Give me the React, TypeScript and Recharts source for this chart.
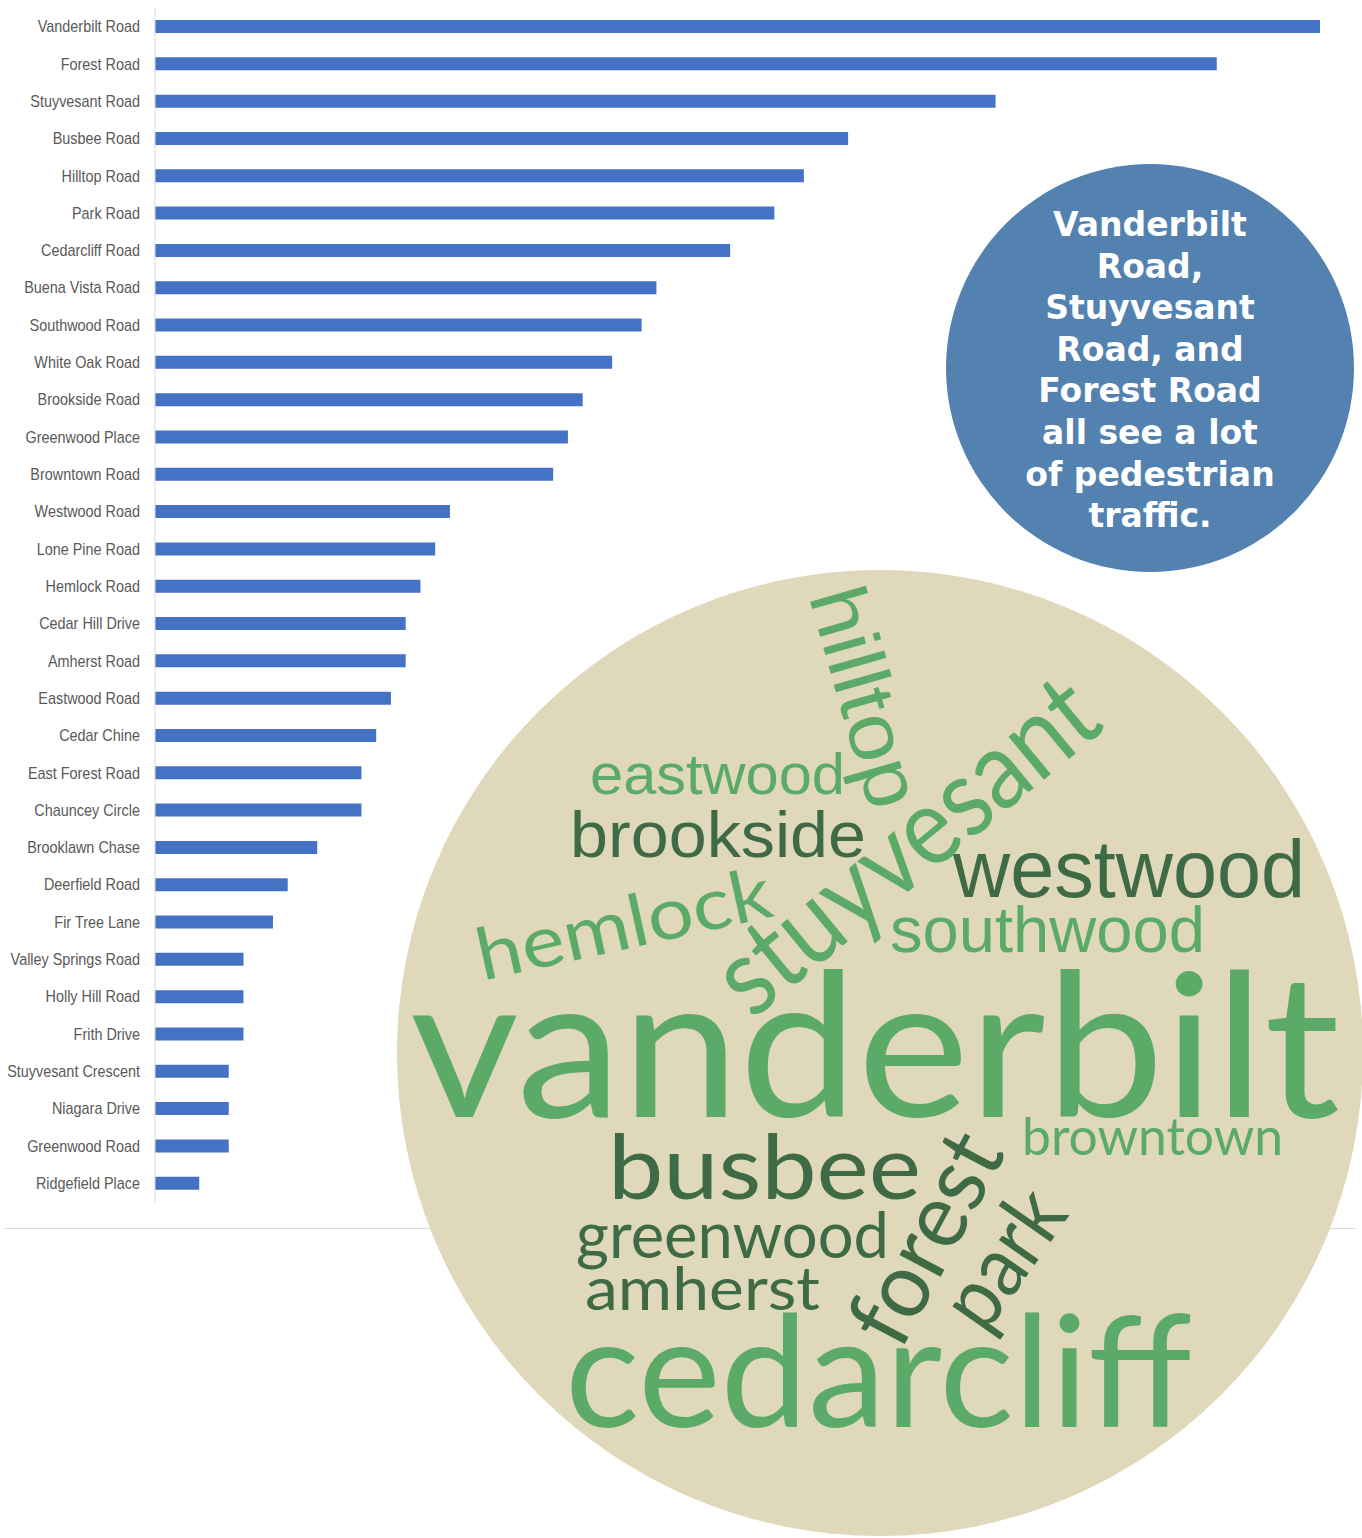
import React from 'react';
import { BarChart, Bar, XAxis, YAxis } from 'recharts';

const ROADS = [
  'Vanderbilt Road', 'Forest Road', 'Stuyvesant Road', 'Busbee Road', 'Hilltop Road',
  'Park Road', 'Cedarcliff Road', 'Buena Vista Road', 'Southwood Road', 'White Oak Road',
  'Brookside Road', 'Greenwood Place', 'Browntown Road', 'Westwood Road', 'Lone Pine Road',
  'Hemlock Road', 'Cedar Hill Drive', 'Amherst Road', 'Eastwood Road', 'Cedar Chine',
  'East Forest Road', 'Chauncey Circle', 'Brooklawn Chase', 'Deerfield Road', 'Fir Tree Lane',
  'Valley Springs Road', 'Holly Hill Road', 'Frith Drive', 'Stuyvesant Crescent', 'Niagara Drive',
  'Greenwood Road', 'Ridgefield Place',
];

const COUNTS = [
  79, 72, 57, 47, 44, 42, 39, 34, 33, 31, 29, 28, 27, 20, 19, 18,
  17, 17, 16, 15, 14, 14, 11, 9, 8, 6, 6, 6, 5, 5, 5, 3,
];

const CALLOUT_LINES = [
  'Vanderbilt', 'Road,', 'Stuyvesant', 'Road, and', 'Forest Road',
  'all see a lot', 'of pedestrian', 'traffic.',
];

const CLOUD_WORDS = [
  'vanderbilt', 'cedarcliff', 'busbee', 'greenwood', 'amherst', 'browntown',
  'westwood', 'southwood', 'brookside', 'eastwood',
  'forest', 'park', 'stuyvesant', 'hilltop', 'hemlock',
];

const LIGHT = '#5BAA68';
const DARK = '#3E6A45';
const LATO = 'Lato, "Open Sans", sans-serif';
const ARIAL = '"Liberation Sans", Arial, sans-serif';

// placement of each cloud word (same order as CLOUD_WORDS)
const CLOUD_LAYOUT = [
  { x: 410, y: 1117, size: 200, len: 930, rot: 0, color: LIGHT, font: LATO },
  { x: 565, y: 1427, size: 155, len: 627, rot: 0, color: LIGHT, font: LATO },
  { x: 608, y: 1199, size: 90, len: 313, rot: 0, color: DARK, font: LATO },
  { x: 576, y: 1258, size: 63, len: 313, rot: 0, color: DARK, font: LATO },
  { x: 585, y: 1310, size: 60, len: 235, rot: 0, color: DARK, font: LATO },
  { x: 1022, y: 1155, size: 52, len: 261, rot: 0, color: LIGHT, font: LATO },
  { x: 953, y: 897, size: 82, len: 352, rot: 0, color: DARK, font: ARIAL },
  { x: 890, y: 952, size: 64, len: 315, rot: 0, color: LIGHT, font: ARIAL },
  { x: 570, y: 857, size: 65, len: 296, rot: 0, color: DARK, font: ARIAL },
  { x: 590, y: 794, size: 58, len: 255, rot: 0, color: LIGHT, font: ARIAL },
  { x: 922, y: 1236, size: 92, len: 225, rot: -62, color: DARK, font: LATO },
  { x: 1000, y: 1256, size: 86, len: 148, rot: -55, color: DARK, font: LATO },
  { x: 902, y: 841, size: 110, len: 460, rot: -39.5, color: LIGHT, font: LATO },
  { x: 866, y: 697, size: 80, len: 226, rot: 74, color: LIGHT, font: ARIAL },
  { x: 623, y: 921, size: 72, len: 300, rot: -12.5, color: LIGHT, font: LATO },
];

const data = ROADS.map((road, i) => ({ road, count: COUNTS[i] }));

function RoadTick({ x, y, payload }: any) {
  return (
    <g transform={`translate(${x},${y})`}>
      <text
        transform="scale(0.9,1)"
        textAnchor="end"
        dy="0.35em"
        fill="#595959"
        fontSize={16}
        fontFamily='"Liberation Sans", Arial, sans-serif'
      >
        {payload.value}
      </text>
    </g>
  );
}

function WordCloud() {
  return (
    <g>
      <circle cx={880} cy={1053} r={483} fill="#E0D8BA" />
      {CLOUD_WORDS.map((word, i) => {
        const p = CLOUD_LAYOUT[i];
        const common = {
          fill: p.color,
          fontSize: p.size,
          fontFamily: p.font,
          textLength: p.len,
          lengthAdjust: 'spacingAndGlyphs' as const,
        };
        if (p.rot === 0) {
          return (
            <text key={word} x={p.x} y={p.y} textAnchor="start" {...common}>
              {word}
            </text>
          );
        }
        return (
          <text
            key={word}
            x={p.x}
            y={p.y}
            textAnchor="middle"
            dominantBaseline="central"
            transform={`rotate(${p.rot} ${p.x} ${p.y})`}
            {...common}
          >
            {word}
          </text>
        );
      })}
    </g>
  );
}

function Callout() {
  const cx = 1150;
  const firstBaseline = 236;
  return (
    <g>
      <circle cx={cx} cy={368} r={204} fill="#5382B0" />
      <text
        textAnchor="middle"
        fill="#ffffff"
        fontFamily='"DejaVu Sans", Verdana, sans-serif'
        fontWeight="bold"
        fontSize={33}
      >
        {CALLOUT_LINES.map((line, i) => (
          <tspan key={i} x={cx} y={firstBaseline + i * 41.6}>
            {line}
          </tspan>
        ))}
      </text>
    </g>
  );
}

export default function App() {
  return (
    <div
      style={{
        position: 'absolute',
        left: 0,
        top: 0,
        width: 1362,
        height: 1538,
        background: '#ffffff',
        overflow: 'hidden',
      }}
    >
      <div
        style={{
          position: 'absolute',
          left: 5,
          top: 1228,
          width: 1350,
          height: 1,
          background: '#D9D9D9',
        }}
      />
      <div style={{ position: 'absolute', left: 0, top: 0 }}>
        <BarChart
          width={1362}
          height={1240}
          data={data}
          layout="vertical"
          margin={{ top: 8, right: 42, bottom: 38, left: 0 }}
        >
          <XAxis type="number" domain={[0, 79]} hide />
          <YAxis
            type="category"
            dataKey="road"
            width={155}
            interval={0}
            tickSize={0}
            tickMargin={15}
            tickLine={false}
            axisLine={{ stroke: '#D9D9D9' }}
            tick={<RoadTick />}
          />
          <Bar dataKey="count" fill="#4472C4" barSize={13} isAnimationActive={false} />
        </BarChart>
      </div>
      <svg
        width={1362}
        height={1538}
        style={{ position: 'absolute', left: 0, top: 0, pointerEvents: 'none' }}
      >
        <WordCloud />
        <Callout />
      </svg>
    </div>
  );
}
